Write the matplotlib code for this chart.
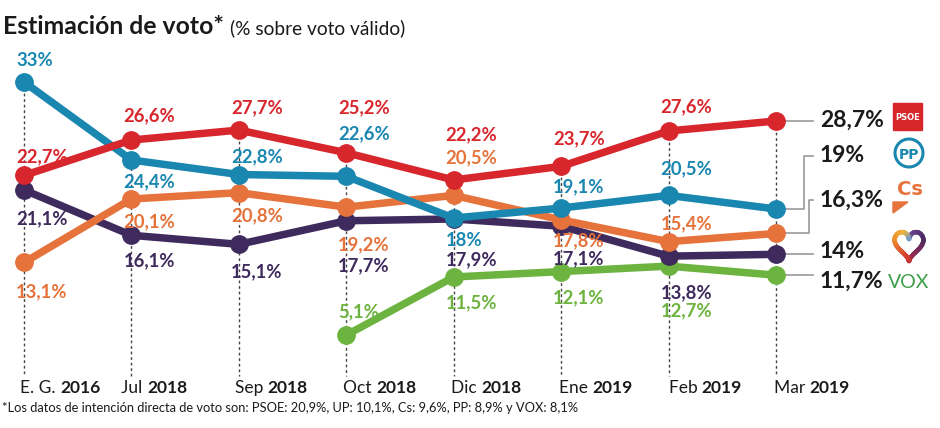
import matplotlib
matplotlib.use("Agg")
import matplotlib.pyplot as plt
import numpy as np

# ---------------- data ----------------
categories_pre = ["E. G.", "Jul", "Sep", "Oct", "Dic", "Ene", "Feb", "Mar"]
categories_year = ["2016", "2018", "2018", "2018", "2018", "2019", "2019", "2019"]

psoe = [22.7, 26.6, 27.7, 25.2, 22.2, 23.7, 27.6, 28.7]
pp = [33.0, 24.4, 22.8, 22.6, 18.0, 19.1, 20.5, 19.0]
cs = [13.1, 20.1, 20.8, 19.2, 20.5, 17.8, 15.4, 16.3]
up = [21.1, 16.1, 15.1, 17.7, 17.9, 17.1, 13.8, 14.0]
vox = [None, None, None, 5.1, 11.5, 12.1, 12.7, 11.7]

title = "Estimación de voto*"
subtitle = "(% sobre voto válido)"
footnote = ("*Los datos de intención directa de voto son: PSOE: 20,9%, UP: 10,1%, "
            "Cs: 9,6%, PP: 8,9% y VOX: 8,1%")

# ---------------- style ----------------
C_PSOE = "#d8262d"
C_PP = "#1a87b1"
C_CS = "#e5733b"
C_UP = "#3e2a5c"
C_VOX = "#6cb43f"

# label vertical offsets (pixels, + = down) for points 0..6
off_psoe = [-19, -24, -22, -45, -45, -28, -24]
off_pp = [-22, 22, -18, -43, 22, -21, -27]
off_cs = [29, 23, 23, 38, -38, 21, -18]
off_up = [29, 25, 27, 45, 41, 33, 37]
off_vox = [None, None, None, -23, 26, 26, 45]

W, H = 940, 428
fig = plt.figure(figsize=(W / 100, H / 100), dpi=100)
ax = fig.add_axes([0, 0, 1, 1])
ax.set_axis_off()

sx = 107.43
sy = 9.07
ax.set_xlim(-24 / sx, (W - 24) / sx)
ax.set_ylim(33 - (H - 82) / sy, 33 + 82 / sy)

x = np.arange(len(categories_pre))
series = [
    (psoe, C_PSOE, off_psoe, 6),
    (pp, C_PP, off_pp, 5),
    (cs, C_CS, off_cs, 4),
    (up, C_UP, off_up, 3),
    (vox, C_VOX, off_vox, 2),
]

FONT = "Lato"

# dotted verticals
bottom_v = 33 - (376 - 82) / sy
for i in range(len(x)):
    vals = [s[0][i] for s in series if s[0][i] is not None]
    ax.plot([x[i], x[i]], [max(vals), bottom_v], color="#444444", lw=1.0,
            ls=(0, (2, 2)), zorder=1)

def fmt(v):
    return (f"{v:.1f}".rstrip("0").rstrip(".")).replace(".", ",") + "%"

for vals, col, offs, z in series:
    xs = [xi for xi, v in zip(x, vals) if v is not None]
    ys = [v for v in vals if v is not None]
    ax.plot(xs, ys, color=col, lw=5.4, marker="o", ms=12.5, zorder=z,
            solid_capstyle="round", solid_joinstyle="round")
    for xi, v, o in zip(x[:-1], vals[:-1], offs):
        if v is None:
            continue
        ax.annotate(fmt(v), xy=(xi, v), xytext=(-8, -o), textcoords="offset pixels",
                    ha="left", va="center", color=col, fontsize=13.3,
                    fontweight="bold", family=FONT, zorder=10)

# right side labels with connectors
last = len(x) - 1
right_y_px = [120, 156, 200, 252, 281]
line_y_px = [118, 156, 200, 254, 278]
elbow_x_px = [None, 804, 809, None, None]
for (vals, col, offs, z), ly, ty, ex in zip(series, right_y_px, line_y_px, elbow_x_px):
    v = vals[last]
    tv = 33 - (ty - 82) / sy
    lab_v = 33 - (ly - 82) / sy
    x_end = (813 - 24) / sx
    if ex is None:
        ax.plot([x[last], x_end], [v, v], color="#9a9a9a", lw=1.2, zorder=0.5)
    else:
        exv = (ex - 24) / sx
        ax.plot([x[last], exv, exv, x_end], [v, v, tv, tv], color="#9a9a9a",
                lw=1.2, zorder=0.5)
    ax.text((820 - 24) / sx, lab_v, fmt(v), ha="left", va="center", color="#1a1a1a",
            fontsize=16.5, fontweight="bold", family=FONT, zorder=10)

# ---------------- logos ----------------
def fx(px):
    return px / W

def fy(py):
    return 1 - py / H

# PSOE
fig.patches.append(plt.Rectangle((fx(893), fy(130)), 29 / W, 27 / H,
                                 transform=fig.transFigure, color=C_PSOE))
fig.text(fx(907.5), fy(117), "PSOE", color="white", fontsize=6, fontweight="bold",
         ha="center", va="center", family="DejaVu Sans")
# PP
circ = matplotlib.patches.Ellipse((fx(909), fy(153)), 28 / W, 28 / H,
                                  transform=fig.transFigure, fill=False,
                                  ec=C_PP, lw=2.2)
fig.patches.append(circ)
fig.text(fx(909), fy(155), "PP", color=C_PP, fontsize=10, fontweight="bold",
         ha="center", va="center", family="DejaVu Sans")
# Cs
fig.text(fx(910), fy(189), "Cs", color=C_CS, fontsize=14, fontweight="bold",
         ha="center", va="center", family="DejaVu Sans")
tri = matplotlib.patches.Polygon([(fx(893), fy(202)), (fx(908), fy(202)), (fx(893), fy(213))],
                                 closed=True, transform=fig.transFigure, color=C_CS)
fig.patches.append(tri)
# heart (Unidas Podemos)
hax = fig.add_axes([fx(891), fy(264), 36 / W, 36 / H])
hax.set_axis_off()
t = np.linspace(0, 2 * np.pi, 200)
hxs = 16 * np.sin(t) ** 3
hys = 13 * np.cos(t) - 5 * np.cos(2 * t) - 2 * np.cos(3 * t) - np.cos(4 * t)
cmap = matplotlib.colors.LinearSegmentedColormap.from_list(
    "h", ["#6a9ad0", "#6a3f8a", "#4b2a63", "#8a2a55", "#c0303a", "#d9432f",
          "#ec8a2c", "#f0b53a", "#6a9ad0"])
for k in range(len(t) - 1):
    hax.plot(hxs[k:k + 2], hys[k:k + 2], color=cmap(k / len(t)), lw=3.2,
             solid_capstyle="round")
hax.set_xlim(-20, 20)
hax.set_ylim(-20, 16)
# VOX
fig.text(fx(909), fy(283), "VOX", color="#3c9e48", fontsize=14,
         ha="center", va="center", family=FONT)

# ---------------- texts ----------------
tt = fig.text(fx(3), fy(27), title, fontsize=17.8, fontweight="bold",
              color="#1a1a1a", ha="left", va="center", family=FONT)
fig.canvas.draw()
bb = tt.get_window_extent()
fig.text((bb.x1 + 6) / W, fy(28), subtitle, fontsize=13.8, color="#1a1a1a",
         ha="left", va="center", family=FONT)

shifts = [-4, -10, -4, -3, -3, -2, 0, -2]
for i, (pre, yr) in enumerate(zip(categories_pre, categories_year)):
    px = 24 + i * sx + shifts[i]
    t1 = fig.text(fx(px), fy(388), pre + " ", fontsize=12.5, color="#1a1a1a",
                  ha="left", va="center", family=FONT)
    fig.canvas.draw()
    b1 = t1.get_window_extent()
    fig.text(b1.x1 / W, fy(388), yr, fontsize=12.5, fontweight="bold",
             color="#1a1a1a", ha="left", va="center", family=FONT)

fig.text(fx(2), fy(408), footnote, fontsize=9.3, color="#1a1a1a", ha="left",
         va="center", family=FONT)

fig.savefig("out.png", dpi=100)
